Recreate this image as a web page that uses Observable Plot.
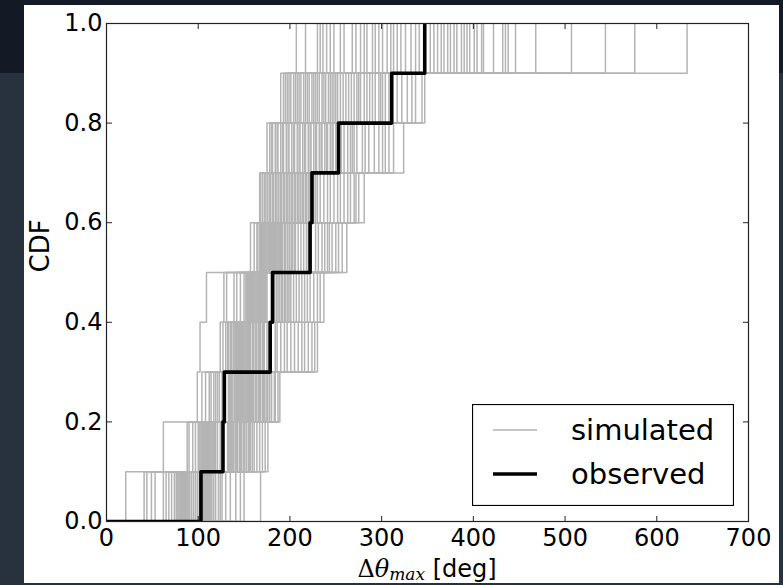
<!DOCTYPE html>
<html>
<head>
<meta charset="utf-8">
<script src="https://cdn.jsdelivr.net/npm/d3@7"></script>
<script src="https://cdn.jsdelivr.net/npm/@observablehq/plot@0.6"></script>
<style>
html,body{margin:0;padding:0;}
body{width:783px;height:585px;overflow:hidden;position:relative;
  background:linear-gradient(#141a25 0px,#141a25 73px,#28313e 73px,#28313e 585px);
  font-family:"DejaVu Sans",sans-serif;}
#panel{position:absolute;left:24px;top:5px;width:755px;height:578px;background:#fff;overflow:hidden;}
#panel svg{display:block;}
#legend{position:absolute;left:448px;top:399px;}
</style>
</head>
<body>
<div id="panel"></div>
<script>
// x values where each simulated CDF steps up to the given level (one value per simulation, sorted)
const step01 = [21,41,44,49,53,62,65,68,71,74,76,77,78,79,80,81,82,83,84,85,86,87,88,89,90,91,93,95,97,99,101,103,104,105,106,107,108,109,110,111,112,113,114,115,117,119,122,124,126,130,135,141,146,150,168];
const step02 = [62,88,90,94,97,100,101,102,103,104,105,106,107,108,109,110,111,112,113,114,115,116,117,118,119,121,124,132,133,134,135,136,137,138,139,141,142,143,145,146,147,149,150,151,153,155,156,157,159,161,164,167,170,173,176];
const step03 = [99,104,108,112,114,117,119,121,123,126,133,134,135,136,137,139,140,141,142,143,144,145,146,147,148,149,150,151,152,153,154,155,156,157,158,159,160,162,163,164,166,167,168,170,171,172,174,175,176,178,180,183,184,187,189];
const step04 = [102,124,127,130,132,133,135,136,138,139,140,141,142,143,144,145,146,147,148,149,150,151,152,153,154,155,156,157,159,160,162,163,164,166,167,168,170,171,172,175,177,184,186,190,194,197,201,205,209,213,216,220,224,227,230];
const step05 = [109,128,131,139,142,146,150,152,153,154,155,156,157,158,159,160,161,162,163,164,165,166,167,168,169,170,171,172,173,174,175,183,185,186,188,189,191,192,194,195,197,198,200,201,204,207,210,213,216,219,222,226,230,233,237];
const step06 = [157,161,164,165,167,168,169,170,171,172,173,174,175,176,177,178,179,180,181,182,183,184,185,186,187,188,189,190,191,192,194,195,197,199,200,202,203,205,206,209,212,215,218,220,228,231,235,238,241,243,246,250,253,257,262];
const step07 = [167,168,170,172,173,175,176,178,179,181,182,184,185,187,188,190,191,193,194,196,197,199,200,202,203,205,206,208,209,211,212,214,215,217,218,220,221,224,226,228,230,233,237,241,244,248,252,255,259,263,266,270,272,275,281];
const step08 = [175,178,180,181,184,186,187,190,192,193,196,198,199,202,204,205,208,210,211,214,216,217,220,222,223,226,228,229,232,234,235,238,240,241,244,246,247,250,256,259,263,266,268,270,273,279,282,286,292,297,301,304,308,313,324];
const step09 = [190,193,195,197,199,201,204,206,208,210,212,215,217,219,221,224,226,228,230,232,235,237,239,242,244,246,248,250,252,255,258,261,264,267,270,273,275,277,281,284,287,290,293,297,299,301,304,308,317,322,328,333,337,344,347];
const step10 = [207,217,230,233,236,240,244,248,255,259,268,272,277,281,284,290,293,297,301,306,310,313,317,321,326,332,337,341,353,357,361,365,368,372,375,379,382,387,390,393,396,401,404,409,411,422,432,435,438,446,468,507,544,576,633];
const cdfLevels = [0.1,0.2,0.3,0.4,0.5,0.6,0.7,0.8,0.9,1.0];
const observed = [103,127,128.5,178.5,181,222,224,253,311,347];
const xTicks = [0,100,200,300,400,500,600,700];
const yTicks = [0,0.2,0.4,0.6,0.8,1.0];
const seriesNames = ["simulated","observed"];

const steps = [step01,step02,step03,step04,step05,step06,step07,step08,step09,step10];
const simRows = [];
for (let i = 0; i < step01.length; i++) {
  simRows.push({sim: i, x: 0, y: 0});
  steps.forEach((s, k) => simRows.push({sim: i, x: s[i], y: cdfLevels[k]}));
}
const obsRows = [{x: 0, y: 0}, ...observed.map((v, k) => ({x: v, y: cdfLevels[k]}))];

const plot = Plot.plot({
  width: 755, height: 578,
  marginLeft: 82, marginRight: 31, marginTop: 18, marginBottom: 62,
  style: {fontFamily: "DejaVu Sans", color: "#000", background: "transparent", overflow: "visible"},
  x: {domain: [0, 700]},
  y: {domain: [0, 1]},
  marks: [
    Plot.line(simRows, {x: "x", y: "y", z: "sim", curve: "step-after", stroke: "#b4b4b4", strokeWidth: 1.5, clip: true}),
    Plot.line(obsRows, {x: "x", y: "y", curve: "step-after", stroke: "#000", strokeWidth: 3.6, clip: true}),
    Plot.frame({stroke: "#222", strokeWidth: 1.2}),
    Plot.axisX({anchor: "bottom", ticks: xTicks, tickSize: -5, tickPadding: 12, fontSize: 24, label: null, stroke: "#222"}),
    Plot.axisX({anchor: "top", ticks: xTicks, tickSize: -5, tickFormat: () => "", label: null, stroke: "#222"}),
    Plot.axisY({anchor: "left", ticks: yTicks, tickSize: -6, tickPadding: 10, fontSize: 24, tickFormat: d => d.toFixed(1), label: null, stroke: "#222"}),
    Plot.axisY({anchor: "right", ticks: yTicks, tickSize: -6, tickFormat: () => "", label: null, stroke: "#222"}),
    Plot.text(["CDF"], {frameAnchor: "left", rotate: -90, dx: -66, fontSize: 26, text: d => d, fill: "#000"})
  ]
});
document.getElementById("panel").appendChild(plot);

// x-axis label with math-style subscript
const svg = d3.select(plot);
const t = svg.append("text").attr("x", 403).attr("y", 572).attr("text-anchor", "middle")
  .attr("font-size", 24).attr("fill", "#000");
t.append("tspan").attr("font-family", "DejaVu Serif").text("Δ");
t.append("tspan").attr("font-family", "DejaVu Serif").attr("font-style", "italic").text("θ");
t.append("tspan").attr("font-family", "DejaVu Serif").attr("font-style", "italic").attr("font-size", 17).attr("dy", 3).text("max");
t.append("tspan").attr("font-family", "DejaVu Sans").attr("dy", -3).text(" [deg]");

// legend
const lg = d3.select("#panel").append("svg").attr("id", "legend").attr("width", 262).attr("height", 102);
lg.append("rect").attr("x", 0.5).attr("y", 0.5).attr("width", 261).attr("height", 101).attr("fill", "#fff").attr("stroke", "#000").attr("stroke-width", 1.2);
const items = [{name: seriesNames[0], stroke: "#b4b4b4", w: 1.5, y: 26}, {name: seriesNames[1], stroke: "#000", w: 3.6, y: 70}];
items.forEach(it => {
  lg.append("line").attr("x1", 21).attr("x2", 65).attr("y1", it.y).attr("y2", it.y).attr("stroke", it.stroke).attr("stroke-width", it.w);
  lg.append("text").attr("x", 99).attr("y", it.y + 10).attr("font-family", "DejaVu Sans").attr("font-size", 29).attr("fill", "#000").text(it.name);
});
</script>
</body>
</html>
